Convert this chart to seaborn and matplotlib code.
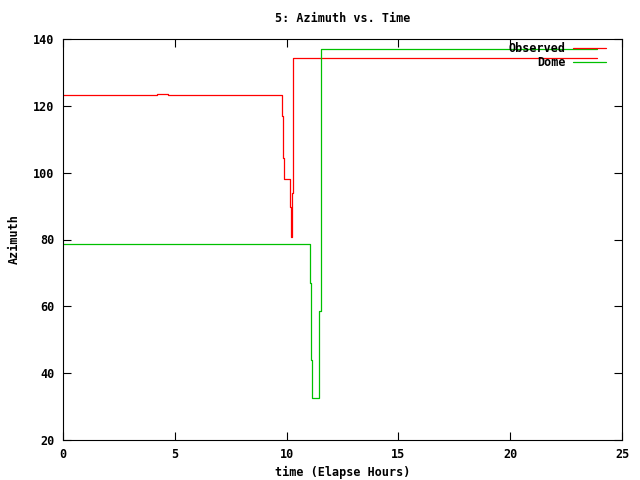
import matplotlib
matplotlib.use("Agg")
import matplotlib.pyplot as plt
import pandas as pd
import seaborn as sns

# Observed azimuth (step changes), hours vs degrees
obs_time = [0.0, 4.2, 4.7, 9.81, 9.86, 9.9, 10.15, 10.2, 10.24, 10.27, 10.3, 23.9]
obs_az = [123.2, 123.5, 123.2, 117.0, 104.5, 98.1, 89.8, 80.7, 94.0, 121.0, 134.2, 134.2]

# Dome azimuth
dome_time = [0.0, 11.06, 11.09, 11.13, 11.47, 11.52, 11.55, 23.9]
dome_az = [78.6, 67.1, 44.0, 32.5, 58.7, 110.8, 136.9, 136.9]

x_ticks = [0, 5, 10, 15, 20, 25]
y_ticks = [20, 40, 60, 80, 100, 120, 140]

df = pd.concat([
    pd.DataFrame({"time": obs_time, "az": obs_az, "series": "Observed"}),
    pd.DataFrame({"time": dome_time, "az": dome_az, "series": "Dome"}),
])

sns.set_style("ticks")
plt.rcParams["font.family"] = ["DejaVu Sans Mono"]
plt.rcParams["font.weight"] = "bold"
plt.rcParams["text.color"] = "black"
plt.rcParams["axes.labelcolor"] = "black"
plt.rcParams["xtick.color"] = "black"
plt.rcParams["ytick.color"] = "black"

fig = plt.figure(figsize=(6.4, 4.8), dpi=100)
ax = fig.add_axes([63 / 640, 40 / 480, 559 / 640, 401 / 480])

sns.lineplot(data=df, x="time", y="az", hue="series",
             palette={"Observed": "#ff0000", "Dome": "#00c000"},
             estimator=None, sort=False, drawstyle="steps-post",
             linewidth=0.9, ax=ax)

ax.set_xlim(0, 25)
ax.set_ylim(20, 140)
ax.set_xticks(x_ticks)
ax.set_yticks(y_ticks)
ax.tick_params(direction="in", top=True, right=True, length=6, width=0.8,
               labelsize=8.5, pad=6)
for lab in ax.get_xticklabels() + ax.get_yticklabels():
    lab.set_fontweight("bold")
for s in ax.spines.values():
    s.set_linewidth(0.8)
    s.set_color("black")

ax.set_xlabel("time (Elapse Hours)", fontsize=8.5, fontweight="bold", labelpad=3)
ax.set_ylabel("Azimuth", fontsize=8.5, fontweight="bold", labelpad=9)
ax.set_title("5: Azimuth vs. Time", fontsize=8.5, fontweight="bold", pad=12)

leg = ax.legend(loc="upper right", bbox_to_anchor=(0.971, 0.992), frameon=False,
                markerfirst=False,
                prop={"family": "DejaVu Sans Mono", "weight": "bold", "size": 8.5},
                handlelength=2.8, borderaxespad=0, borderpad=0, labelspacing=0.05,
                handletextpad=0.6)
for t in leg.get_texts():
    t.set_ha("right")

fig.savefig("out.png", dpi=100)
